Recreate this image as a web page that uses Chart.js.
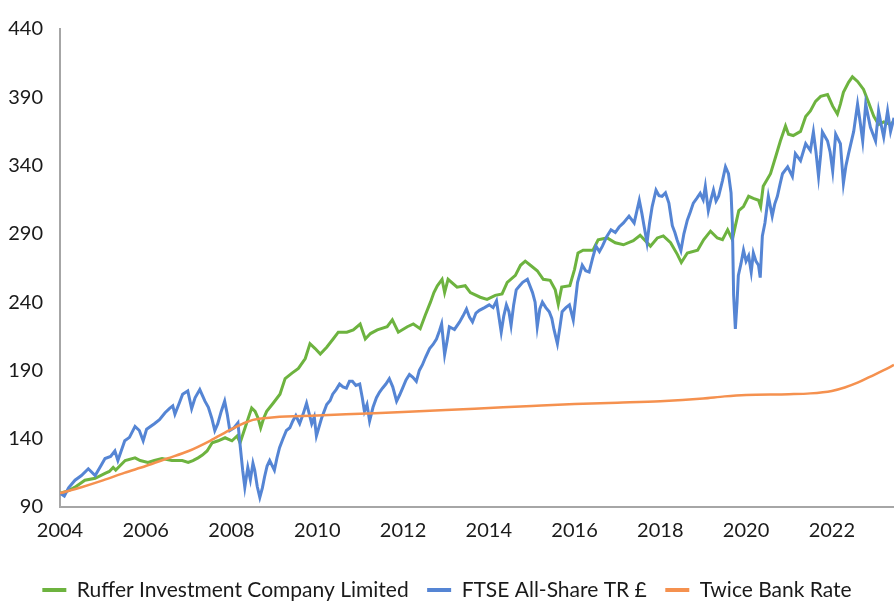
<!DOCTYPE html>
<html>
<head>
<meta charset="utf-8">
<script src="https://cdn.jsdelivr.net/npm/chart.js@4"></script>
<style>
html,body{margin:0;padding:0;background:#fff;}
#wrap{width:894px;height:601px;position:relative;}
</style>
</head>
<body>
<div id="wrap"><canvas id="c"></canvas></div>
<script>
const seriesNames = ["Ruffer Investment Company Limited", "FTSE All-Share TR \u00a3", "Twice Bank Rate"];
const xTickYears = [2004, 2006, 2008, 2010, 2012, 2014, 2016, 2018, 2020, 2022];
const yTickValues = [90, 140, 190, 240, 290, 340, 390, 440];

const rufferYears = [2004.00,2004.20,2004.35,2004.58,2004.82,2005.05,2005.15,2005.24,2005.30,2005.52,2005.75,2005.87,2006.05,2006.20,2006.38,2006.61,2006.85,2006.99,2007.10,2007.22,2007.32,2007.43,2007.55,2007.69,2007.85,2008.01,2008.13,2008.20,2008.27,2008.39,2008.47,2008.55,2008.62,2008.68,2008.75,2008.82,2008.97,2009.13,2009.25,2009.41,2009.56,2009.72,2009.83,2009.95,2010.07,2010.22,2010.37,2010.49,2010.69,2010.84,2011.00,2011.12,2011.24,2011.40,2011.63,2011.75,2011.89,2012.10,2012.24,2012.40,2012.52,2012.64,2012.72,2012.80,2012.91,2012.97,2013.05,2013.26,2013.45,2013.57,2013.80,2013.96,2014.15,2014.31,2014.43,2014.62,2014.74,2014.85,2014.97,2015.13,2015.27,2015.43,2015.55,2015.62,2015.70,2015.89,2016.00,2016.08,2016.20,2016.43,2016.55,2016.76,2016.95,2017.14,2017.37,2017.53,2017.65,2017.77,2017.93,2018.07,2018.24,2018.40,2018.49,2018.63,2018.87,2019.01,2019.17,2019.33,2019.45,2019.57,2019.68,2019.75,2019.83,2019.94,2020.06,2020.17,2020.29,2020.34,2020.40,2020.57,2020.69,2020.80,2020.92,2020.99,2021.10,2021.27,2021.39,2021.50,2021.62,2021.74,2021.90,2022.02,2022.13,2022.20,2022.27,2022.39,2022.48,2022.60,2022.74,2022.86,2022.98,2023.09,2023.21,2023.37,2023.45];
const rufferValues = [100,102,104.5,109.6,111,114.6,116,119,117,124,126,124,122.6,124,125.5,124,124,122.6,124,126,128,131,137,138.5,140.7,138.5,142,137,143.6,155,162.5,160,155,148,155,160,166,172.6,184,188,191.5,198.7,209.6,206,202,207,213,218,218,219.7,224,213,217,219.7,222,227,218,222,224,220.5,230.6,240,247,252,256.7,247,256.7,251,252,247,243.6,242,245,246,254.5,259.6,267,270,267,263,256.7,256,249,238.5,251,252,264,276,278,278,285.7,287,283.5,282,285,289,285,281,287,288.5,283.5,274.8,269,276,278,285.7,292,287,285.7,293,285.7,295.8,307,310,317.5,316,314.6,310,324.8,334,346.5,358,369,363,362,365,376,380,387,390.7,392,383.5,377.7,385,393.6,401,405,401.6,395.8,386,376,370,372,370,372.6];

const ftseYears = [2004.00,2004.10,2004.20,2004.35,2004.50,2004.66,2004.82,2004.95,2005.05,2005.18,2005.28,2005.35,2005.51,2005.62,2005.75,2005.85,2005.94,2006.02,2006.20,2006.32,2006.45,2006.55,2006.63,2006.68,2006.78,2006.86,2006.98,2007.07,2007.15,2007.26,2007.38,2007.46,2007.54,2007.61,2007.68,2007.76,2007.84,2007.90,2007.96,2008.06,2008.15,2008.19,2008.26,2008.31,2008.38,2008.44,2008.50,2008.54,2008.60,2008.66,2008.72,2008.77,2008.83,2008.89,2009.00,2009.06,2009.12,2009.20,2009.28,2009.36,2009.43,2009.50,2009.59,2009.67,2009.75,2009.87,2009.93,2009.98,2010.10,2010.22,2010.30,2010.36,2010.44,2010.52,2010.60,2010.68,2010.75,2010.82,2010.90,2010.99,2011.05,2011.10,2011.16,2011.22,2011.30,2011.38,2011.45,2011.52,2011.60,2011.68,2011.76,2011.85,2011.92,2011.99,2012.07,2012.15,2012.23,2012.31,2012.38,2012.45,2012.53,2012.62,2012.70,2012.78,2012.85,2012.90,2012.97,2013.03,2013.08,2013.20,2013.32,2013.40,2013.48,2013.55,2013.62,2013.70,2013.78,2013.90,2014.01,2014.10,2014.18,2014.29,2014.35,2014.41,2014.47,2014.52,2014.58,2014.64,2014.72,2014.79,2014.90,2015.02,2015.08,2015.13,2015.19,2015.25,2015.33,2015.41,2015.47,2015.52,2015.60,2015.66,2015.71,2015.80,2015.88,2015.97,2016.07,2016.18,2016.26,2016.34,2016.42,2016.50,2016.58,2016.65,2016.75,2016.85,2016.95,2017.04,2017.14,2017.27,2017.39,2017.51,2017.57,2017.62,2017.69,2017.75,2017.81,2017.90,2017.97,2018.04,2018.12,2018.20,2018.28,2018.34,2018.39,2018.48,2018.55,2018.63,2018.70,2018.77,2018.85,2018.93,2019.00,2019.05,2019.12,2019.18,2019.24,2019.30,2019.36,2019.45,2019.52,2019.59,2019.65,2019.68,2019.71,2019.75,2019.79,2019.82,2019.88,2019.94,2020.00,2020.06,2020.12,2020.17,2020.23,2020.29,2020.33,2020.38,2020.44,2020.52,2020.61,2020.67,2020.73,2020.79,2020.85,2020.97,2021.08,2021.15,2021.27,2021.39,2021.50,2021.57,2021.63,2021.69,2021.74,2021.78,2021.90,2021.96,2022.02,2022.09,2022.20,2022.27,2022.33,2022.39,2022.51,2022.60,2022.66,2022.72,2022.79,2022.90,2023.02,2023.09,2023.15,2023.21,2023.30,2023.37,2023.45];
const ftseValues = [100,98,104,109.6,113,118,113,120,125.5,127,131,124,138.5,141,149,146,138.5,147,151,154,159,162,164,158,166,172.6,175,162,170,176,167.5,163,155,146,151,160,167.5,158,146,148,151.6,138.5,117,104.5,119,110,122,117,105,97,104,112,120,124,117,126,133.5,140,146,148,153,157,151,158,166,151,156,142,155,165,168,172.6,176,180,178,177,182,182,179,180,170,160,165,153,163,170,174,177,180,184,178,167.5,172,177,183,187,185,182,190,194,200,206,209,213,219,224,201.6,212,222,220,225.5,230,235,229,225.5,232,234,236,238,236,241,218,230,238,233,223,238,249,252,254.5,256.7,247,240,222,235,240,236,233,228,220,209.6,222,233,236,238,227,254.5,267,263,262,272,281,277,281,288,293,291,295,298,303,298,314.6,305,296,283.5,298,310,322,318,317.5,320,312.5,296,291,285.7,277.7,290,300,306,312.5,316,319.7,315,324.8,307,315,322,314,317.5,329,339,334,320,298,245,220.4,240,259.6,268,278,270,274,262,276,270,267,258,288.5,298,317.5,303,312,317.5,326,334,339,332,348.7,343.6,356,351,364.6,350,332,348,364.6,358,350,336,363,356,327,340,348.7,365,385,372,358,385,368,358,380,370,361,380,365,375];

const bankYears = [2004.0,2004.5,2005.0,2005.5,2006.0,2006.5,2007.0,2007.5,2008.0,2008.3,2008.5,2008.75,2009.0,2010.0,2011.0,2012.0,2013.0,2014.0,2015.0,2016.0,2017.0,2018.0,2019.0,2019.5,2020.0,2021.0,2021.5,2022.0,2022.3,2022.6,2022.9,2023.2,2023.45];
const bankValues = [100,104.5,109.5,115,120,125.5,131,138.5,147,151.5,153.8,155,155.8,157,158.3,159.6,161,162.5,164,165.4,166.4,167.5,169.5,171,172,172.6,173.2,175,177.5,181,185.5,190,194];

const seriesColors = ["#6DB33F", "#5585D4", "#F5914F"];

function pts(xs, ys) { return xs.map((x, i) => ({x: x, y: ys[i]})); }

const tickFont = {family: "Lato, 'Noto Sans', sans-serif", size: 20};
const legendFont = {family: "Lato, 'Noto Sans', sans-serif", size: 21};

new Chart(document.getElementById('c'), {
  type: 'line',
  data: {
    datasets: [
      {label: seriesNames[0], data: pts(rufferYears, rufferValues), borderColor: seriesColors[0], backgroundColor: seriesColors[0], borderWidth: 3, pointRadius: 0, tension: 0, order: 3},
      {label: seriesNames[1], data: pts(ftseYears, ftseValues), borderColor: seriesColors[1], backgroundColor: seriesColors[1], borderWidth: 3, pointRadius: 0, tension: 0, order: 2},
      {label: seriesNames[2], data: pts(bankYears, bankValues), borderColor: seriesColors[2], backgroundColor: seriesColors[2], borderWidth: 2.5, pointRadius: 0, cubicInterpolationMode: 'monotone', order: 1}
    ]
  },
  options: {
    responsive: true,
    maintainAspectRatio: false,
    animation: false,
    layout: {padding: {top: 24, left: 0, right: 0, bottom: 0}},
    plugins: {
      tooltip: {enabled: false},
      legend: {
        position: 'bottom',
        maxHeight: 40,
        labels: {
          font: legendFont,
          color: '#1a1a1a',
          boxWidth: 24,
          boxHeight: 4,
          padding: 18.5,
          sort: (a, b) => a.datasetIndex - b.datasetIndex,
          generateLabels: (chart) => chart.data.datasets.map((d, i) => ({
            text: d.label, fillStyle: d.borderColor, strokeStyle: d.borderColor, lineWidth: 0,
            hidden: false, datasetIndex: i, fontColor: '#1a1a1a'
          }))
        }
      }
    },
    scales: {
      x: {
        type: 'linear',
        min: 2004,
        max: 2023.45,
        afterBuildTicks: (s) => { s.ticks = xTickYears.map(v => ({value: v})); },
        afterFit: (s) => { s.height = 54; },
        grid: {display: false, drawTicks: false},
        border: {display: true, color: '#a6a6a6', width: 2},
        ticks: {font: tickFont, color: '#1a1a1a', padding: 12, maxRotation: 0, autoSkip: false, callback: (v) => String(v)}
      },
      y: {
        type: 'linear',
        min: 90,
        max: 440,
        afterBuildTicks: (s) => { s.ticks = yTickValues.map(v => ({value: v})); },
        afterFit: (s) => { s.width = 60; },
        grid: {display: false, drawTicks: false},
        border: {display: true, color: '#a6a6a6', width: 2},
        ticks: {font: tickFont, color: '#1a1a1a', padding: 17, callback: (v) => String(v)}
      }
    }
  }
});
</script>
</body>
</html>
